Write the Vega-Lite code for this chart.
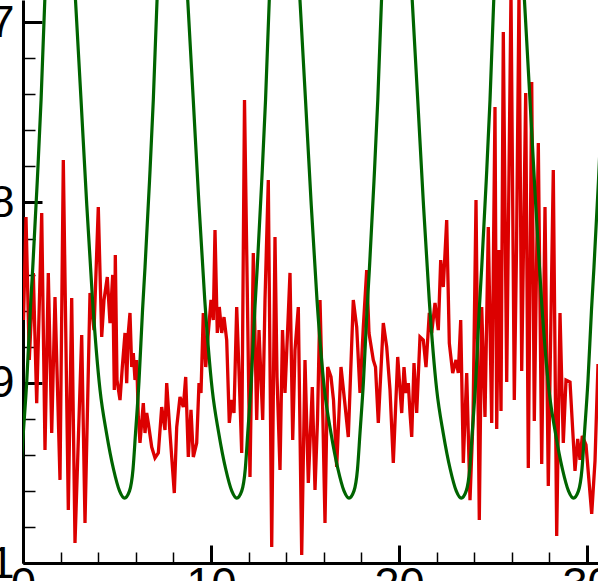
{
  "$schema": "https://vega.github.io/schema/vega-lite/v6.json",
  "width": 575,
  "height": 563,
  "autosize": {"type": "none"},
  "padding": {"left": 23, "top": 0, "right": 0, "bottom": 18},
  "background": "white",
  "config": {"view": {"stroke": null}, "axis": {"grid": false}},
  "datasets": {
    "red": [
      {"t":0.027,"v":-0.8652},{"t":0.160,"v":-0.8081},{"t":0.335,"v":-0.8874},{"t":0.548,"v":-0.8391},{"t":0.729,"v":-0.9113},
      {"t":0.995,"v":-0.8059},{"t":1.170,"v":-0.9373},{"t":1.346,"v":-0.8391},{"t":1.527,"v":-0.9279},{"t":1.702,"v":-0.8525},
      {"t":1.968,"v":-0.9539},{"t":2.144,"v":-0.7765},{"t":2.410,"v":-0.9706},{"t":2.590,"v":-0.8530},{"t":2.766,"v":-0.9889},
      {"t":3.122,"v":-0.8735},{"t":3.298,"v":-0.9778},{"t":3.564,"v":-0.8502},{"t":3.777,"v":-0.8708},{"t":4.005,"v":-0.8025},
      {"t":4.186,"v":-0.8746},{"t":4.309,"v":-0.8541},{"t":4.484,"v":-0.8414},{"t":4.628,"v":-0.8669},{"t":4.771,"v":-0.8402},
      {"t":4.856,"v":-0.9040},{"t":4.910,"v":-0.8292},{"t":5.000,"v":-0.8985},{"t":5.160,"v":-0.9096},{"t":5.282,"v":-0.8913},
      {"t":5.426,"v":-0.8724},{"t":5.516,"v":-0.9002},{"t":5.601,"v":-0.8724},{"t":5.691,"v":-0.8613},{"t":5.782,"v":-0.8913},
      {"t":5.867,"v":-0.8835},{"t":5.957,"v":-0.8985},{"t":6.048,"v":-0.8874},{"t":6.133,"v":-0.9190},{"t":6.223,"v":-0.9334},
      {"t":6.399,"v":-0.9113},{"t":6.489,"v":-0.9279},{"t":6.580,"v":-0.9168},{"t":6.665,"v":-0.9223},{"t":6.846,"v":-0.9357},
      {"t":7.021,"v":-0.9417},{"t":7.197,"v":-0.9390},{"t":7.378,"v":-0.9135},{"t":7.553,"v":-0.9262},{"t":7.644,"v":-0.9002},
      {"t":7.819,"v":-0.9279},{"t":8.048,"v":-0.9612},{"t":8.176,"v":-0.9246},{"t":8.351,"v":-0.9079},{"t":8.527,"v":-0.9135},
      {"t":8.654,"v":-0.8968},{"t":8.793,"v":-0.9412},{"t":8.936,"v":-0.9151},{"t":9.059,"v":-0.9412},{"t":9.239,"v":-0.9334},
      {"t":9.362,"v":-0.9002},{"t":9.468,"v":-0.9057},{"t":9.590,"v":-0.8613},{"t":9.718,"v":-0.8913},{"t":9.856,"v":-0.8724},
      {"t":10.000,"v":-0.8541},{"t":10.122,"v":-0.8652},{"t":10.213,"v":-0.8153},{"t":10.335,"v":-0.8724},{"t":10.441,"v":-0.8580},
      {"t":10.569,"v":-0.8724},{"t":10.691,"v":-0.8636},{"t":10.835,"v":-0.8763},{"t":10.973,"v":-0.9223},{"t":11.101,"v":-0.9096},
      {"t":11.223,"v":-0.9168},{"t":11.367,"v":-0.8580},{"t":11.505,"v":-0.8985},{"t":11.633,"v":-0.9390},{"t":11.782,"v":-0.7432},
      {"t":12.074,"v":-0.9523},{"t":12.250,"v":-0.8281},{"t":12.431,"v":-0.9207},{"t":12.553,"v":-0.8708},{"t":12.750,"v":-0.9207},
      {"t":12.872,"v":-0.8541},{"t":13.048,"v":-0.7876},{"t":13.229,"v":-0.9911},{"t":13.404,"v":-0.8192},{"t":13.511,"v":-0.8968},
      {"t":13.670,"v":-0.9484},{"t":13.803,"v":-0.8708},{"t":13.936,"v":-0.9057},{"t":14.202,"v":-0.8391},{"t":14.346,"v":-0.9318},
      {"t":14.468,"v":-0.8819},{"t":14.644,"v":-0.8580},{"t":14.824,"v":-0.9955},{"t":15.000,"v":-0.8874},{"t":15.176,"v":-0.9556},
      {"t":15.388,"v":-0.9024},{"t":15.532,"v":-0.9595},{"t":15.665,"v":-0.9207},{"t":15.798,"v":-0.8541},{"t":15.931,"v":-0.9096},
      {"t":16.064,"v":-0.9778},{"t":16.207,"v":-0.8913},{"t":16.383,"v":-0.8968},{"t":16.516,"v":-0.9096},{"t":16.686,"v":-0.9467},
      {"t":16.915,"v":-0.8913},{"t":17.101,"v":-0.9096},{"t":17.303,"v":-0.9301},{"t":17.569,"v":-0.8541},{"t":17.750,"v":-0.8691},
      {"t":17.926,"v":-0.9057},{"t":18.101,"v":-0.8691},{"t":18.282,"v":-0.8375},{"t":18.404,"v":-0.8724},{"t":18.633,"v":-0.8874},
      {"t":18.750,"v":-0.8913},{"t":18.899,"v":-0.9223},{"t":19.165,"v":-0.8669},{"t":19.346,"v":-0.8802},{"t":19.521,"v":-0.9040},
      {"t":19.697,"v":-0.9445},{"t":19.931,"v":-0.8857},{"t":20.144,"v":-0.9168},{"t":20.266,"v":-0.8913},{"t":20.372,"v":-0.9057},
      {"t":20.495,"v":-0.9002},{"t":20.585,"v":-0.9168},{"t":20.676,"v":-0.9301},{"t":20.798,"v":-0.8891},{"t":20.941,"v":-0.9168},
      {"t":21.117,"v":-0.8746},{"t":21.293,"v":-0.8763},{"t":21.436,"v":-0.8913},{"t":21.612,"v":-0.8613},{"t":21.739,"v":-0.8724},
      {"t":21.915,"v":-0.8558},{"t":22.090,"v":-0.8708},{"t":22.218,"v":-0.8320},{"t":22.356,"v":-0.8469},{"t":22.537,"v":-0.8098},
      {"t":22.676,"v":-0.8780},{"t":22.856,"v":-0.8946},{"t":23.032,"v":-0.8874},{"t":23.154,"v":-0.8946},{"t":23.282,"v":-0.8652},
      {"t":23.420,"v":-0.9445},{"t":23.601,"v":-0.8946},{"t":23.777,"v":-0.9651},{"t":23.936,"v":-0.9207},{"t":24.096,"v":-0.7987},
      {"t":24.271,"v":-0.9761},{"t":24.399,"v":-0.8580},{"t":24.574,"v":-0.9190},{"t":24.750,"v":-0.8136},{"t":24.931,"v":-0.9223},
      {"t":25.106,"v":-0.7471},{"t":25.197,"v":-0.9257},{"t":25.319,"v":-0.8264},{"t":25.426,"v":-0.9157},{"t":25.548,"v":-0.7055},
      {"t":25.729,"v":-0.8996},{"t":25.957,"v":-0.6833},{"t":26.133,"v":-0.9096},{"t":26.250,"v":-0.8264},{"t":26.383,"v":-0.6833},
      {"t":26.527,"v":-0.8935},{"t":26.739,"v":-0.7393},{"t":26.878,"v":-0.9473},{"t":27.059,"v":-0.7332},{"t":27.197,"v":-0.9212},
      {"t":27.410,"v":-0.7670},{"t":27.590,"v":-0.9451},{"t":27.766,"v":-0.8025},{"t":27.941,"v":-0.9573},{"t":28.207,"v":-0.7820},
      {"t":28.388,"v":-0.9850},{"t":28.564,"v":-0.8613},{"t":28.739,"v":-0.9334},{"t":28.883,"v":-0.8985},{"t":29.096,"v":-0.8996},
      {"t":29.362,"v":-0.9489},{"t":29.505,"v":-0.9312},{"t":29.628,"v":-0.9428},{"t":29.750,"v":-0.9295},{"t":29.947,"v":-0.9345},
      {"t":30.250,"v":-0.9728},{"t":30.426,"v":-0.9434},{"t":30.585,"v":-0.8896}
    ],
    "green": [
      {"t":-0.57,"v":-0.964},{"t":-0.304,"v":-0.960},{"t":-0.118,"v":-0.948},{"t":0.015,"v":-0.928},{"t":0.201,"v":-0.899},
      {"t":0.387,"v":-0.860},{"t":0.520,"v":-0.836},{"t":0.760,"v":-0.788},{"t":0.962,"v":-0.743},{"t":1.159,"v":-0.688},
      {"t":1.250,"v":-0.668},{"t":1.98,"v":-0.55},
      {"t":2.70,"v":-0.670},{"t":2.794,"v":-0.688},{"t":3.086,"v":-0.743},{"t":3.379,"v":-0.799},{"t":3.698,"v":-0.854},
      {"t":4.097,"v":-0.904},{"t":4.443,"v":-0.928},{"t":4.815,"v":-0.948},{"t":5.134,"v":-0.960},{"t":5.40,"v":-0.964},
      {"t":5.666,"v":-0.960},{"t":5.852,"v":-0.948},{"t":5.985,"v":-0.928},{"t":6.171,"v":-0.899},{"t":6.357,"v":-0.860},
      {"t":6.49,"v":-0.836},{"t":6.73,"v":-0.788},{"t":6.932,"v":-0.743},{"t":7.129,"v":-0.688},{"t":7.22,"v":-0.668},{"t":7.95,"v":-0.55},
      {"t":8.67,"v":-0.670},{"t":8.764,"v":-0.688},{"t":9.056,"v":-0.743},{"t":9.349,"v":-0.799},{"t":9.668,"v":-0.854},
      {"t":10.067,"v":-0.904},{"t":10.413,"v":-0.928},{"t":10.785,"v":-0.948},{"t":11.104,"v":-0.960},{"t":11.37,"v":-0.964},
      {"t":11.636,"v":-0.960},{"t":11.822,"v":-0.948},{"t":11.955,"v":-0.928},{"t":12.141,"v":-0.899},{"t":12.327,"v":-0.860},
      {"t":12.46,"v":-0.836},{"t":12.70,"v":-0.788},{"t":12.902,"v":-0.743},{"t":13.099,"v":-0.688},{"t":13.19,"v":-0.668},{"t":13.92,"v":-0.55},
      {"t":14.64,"v":-0.670},{"t":14.734,"v":-0.688},{"t":15.026,"v":-0.743},{"t":15.319,"v":-0.799},{"t":15.638,"v":-0.854},
      {"t":16.037,"v":-0.904},{"t":16.383,"v":-0.928},{"t":16.755,"v":-0.948},{"t":17.074,"v":-0.960},{"t":17.34,"v":-0.964},
      {"t":17.606,"v":-0.960},{"t":17.792,"v":-0.948},{"t":17.925,"v":-0.928},{"t":18.111,"v":-0.899},{"t":18.297,"v":-0.860},
      {"t":18.43,"v":-0.836},{"t":18.67,"v":-0.788},{"t":18.872,"v":-0.743},{"t":19.069,"v":-0.688},{"t":19.16,"v":-0.668},{"t":19.89,"v":-0.55},
      {"t":20.61,"v":-0.670},{"t":20.704,"v":-0.688},{"t":20.996,"v":-0.743},{"t":21.289,"v":-0.799},{"t":21.608,"v":-0.854},
      {"t":22.007,"v":-0.904},{"t":22.353,"v":-0.928},{"t":22.725,"v":-0.948},{"t":23.044,"v":-0.960},{"t":23.31,"v":-0.964},
      {"t":23.576,"v":-0.960},{"t":23.762,"v":-0.948},{"t":23.895,"v":-0.928},{"t":24.081,"v":-0.899},{"t":24.267,"v":-0.860},
      {"t":24.40,"v":-0.836},{"t":24.64,"v":-0.788},{"t":24.842,"v":-0.743},{"t":25.039,"v":-0.688},{"t":25.13,"v":-0.668},{"t":25.86,"v":-0.55},
      {"t":26.58,"v":-0.670},{"t":26.674,"v":-0.688},{"t":26.966,"v":-0.743},{"t":27.259,"v":-0.799},{"t":27.578,"v":-0.854},
      {"t":27.977,"v":-0.904},{"t":28.323,"v":-0.928},{"t":28.695,"v":-0.948},{"t":29.014,"v":-0.960},{"t":29.28,"v":-0.964},
      {"t":29.546,"v":-0.960},{"t":29.732,"v":-0.948},{"t":29.865,"v":-0.928},{"t":30.051,"v":-0.899},{"t":30.237,"v":-0.860},
      {"t":30.37,"v":-0.836},{"t":30.61,"v":-0.788},{"t":30.812,"v":-0.743}
    ]
  },
  "layer": [
    {
      "data": {"name": "red"},
      "mark": {"type": "line", "color": "#dc0000", "strokeWidth": 3.3, "clip": true},
      "encoding": {
        "x": {"field": "t", "type": "quantitative",
          "scale": {"domain": [0, 30.585], "nice": false, "zero": false},
          "axis": {"orient": "bottom", "values": [0, 10, 20, 30], "format": "d", "title": null,
            "domainColor": "black", "domainWidth": 3, "tickColor": "black", "tickWidth": 3, "tickSize": -18,
            "labelFont": "Liberation Sans", "labelFontSize": 45, "labelColor": "black", "labelPadding": 17,
            "labelFlush": false, "labelOverlap": false, "labelBound": false}},
        "y": {"field": "v", "type": "quantitative",
          "scale": {"domain": [-1, -0.6877], "nice": false, "zero": false},
          "axis": {"orient": "left", "values": [-1, -0.9, -0.8, -0.7], "format": ".1~f", "title": null,
            "domainColor": "black", "domainWidth": 3, "tickColor": "black", "tickWidth": 3, "tickSize": -19,
            "labelFont": "Liberation Sans", "labelFontSize": 45, "labelColor": "black", "labelPadding": 28,
            "labelFlush": false, "labelOverlap": false, "labelBound": false}}
      }
    },
    {
      "data": {"name": "green"},
      "mark": {"type": "line", "color": "#006400", "strokeWidth": 3.2, "clip": true, "interpolate": "monotone"},
      "encoding": {
        "x": {"field": "t", "type": "quantitative",
          "scale": {"domain": [0, 30.585], "nice": false, "zero": false},
          "axis": {"orient": "bottom", "values": [2, 4, 6, 8, 12, 14, 16, 18, 22, 24, 26, 28], "title": null,
            "domain": false, "labels": false, "tickColor": "black", "tickWidth": 1.5, "tickSize": -11}},
        "y": {"field": "v", "type": "quantitative",
          "scale": {"domain": [-1, -0.6877], "nice": false, "zero": false},
          "axis": {"orient": "left", "values": [-0.98, -0.96, -0.94, -0.92, -0.88, -0.86, -0.84, -0.82, -0.78, -0.76, -0.74, -0.72], "title": null,
            "domain": false, "labels": false, "tickColor": "black", "tickWidth": 1.5, "tickSize": -12}}
      }
    }
  ],
  "resolve": {"axis": {"x": "independent", "y": "independent"}}
}
